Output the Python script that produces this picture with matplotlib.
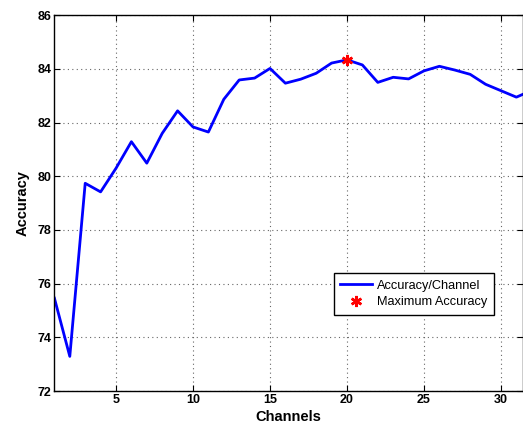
import matplotlib
matplotlib.use("Agg")
import matplotlib.pyplot as plt

channels = list(range(1, 33))
accuracy = [75.46, 73.29, 79.74, 79.42, 80.30, 81.29, 80.49, 81.60, 82.44, 81.84,
            81.65, 82.87, 83.59, 83.66, 84.02, 83.47, 83.62, 83.84, 84.22, 84.34,
            84.15, 83.50, 83.69, 83.63, 83.93, 84.10, 83.96, 83.80, 83.43, 83.19,
            82.95, 83.20]
max_channel = 20
max_accuracy = 84.34
xticks = [5, 10, 15, 20, 25, 30]
yticks = [72, 74, 76, 78, 80, 82, 84, 86]

plt.rcParams['font.family'] = ['Liberation Sans', 'DejaVu Sans']

fig = plt.figure(figsize=(5.23, 4.28), dpi=100)
ax = fig.add_axes([54.4/523, 1-391/428, 1-54.4/523, (391-15.3)/428])

ax.plot(channels, accuracy, color='#0000ff', lw=2, label='Accuracy/Channel')
ax.plot([max_channel], [max_accuracy], linestyle='none', marker=(6, 2, 0), markersize=8,
        markeredgewidth=1.8, color='red', label='Maximum Accuracy')

ax.set_xlim(1, 31.43)
ax.set_ylim(72, 86)
ax.set_xticks(xticks)
ax.set_yticks(yticks)
ax.tick_params(direction='in', top=True, right=True, length=4, width=0.8, labelsize=9, pad=2)
for lab in ax.get_xticklabels() + ax.get_yticklabels():
    lab.set_fontweight('bold')
ax.grid(True, linestyle=(0, (1, 3)), color='#666666', lw=0.8)
for s in ax.spines.values():
    s.set_linewidth(1.0)

ax.set_xlabel('Channels', fontsize=10.5, fontweight='bold', labelpad=3)
ax.set_ylabel('Accuracy', fontsize=10.5, fontweight='bold', labelpad=6)

leg = ax.legend(loc='upper left', bbox_to_anchor=((334-54.4)/(523-54.4), 1-(273.3-15.3)/(391-15.3)),
                fontsize=9.2, fancybox=False, edgecolor='black', framealpha=1,
                borderpad=0.5, labelspacing=0.35, handlelength=2.5, handletextpad=0.4,
                borderaxespad=0)
leg.get_frame().set_linewidth(1.0)

fig.savefig('out.png', dpi=100)
